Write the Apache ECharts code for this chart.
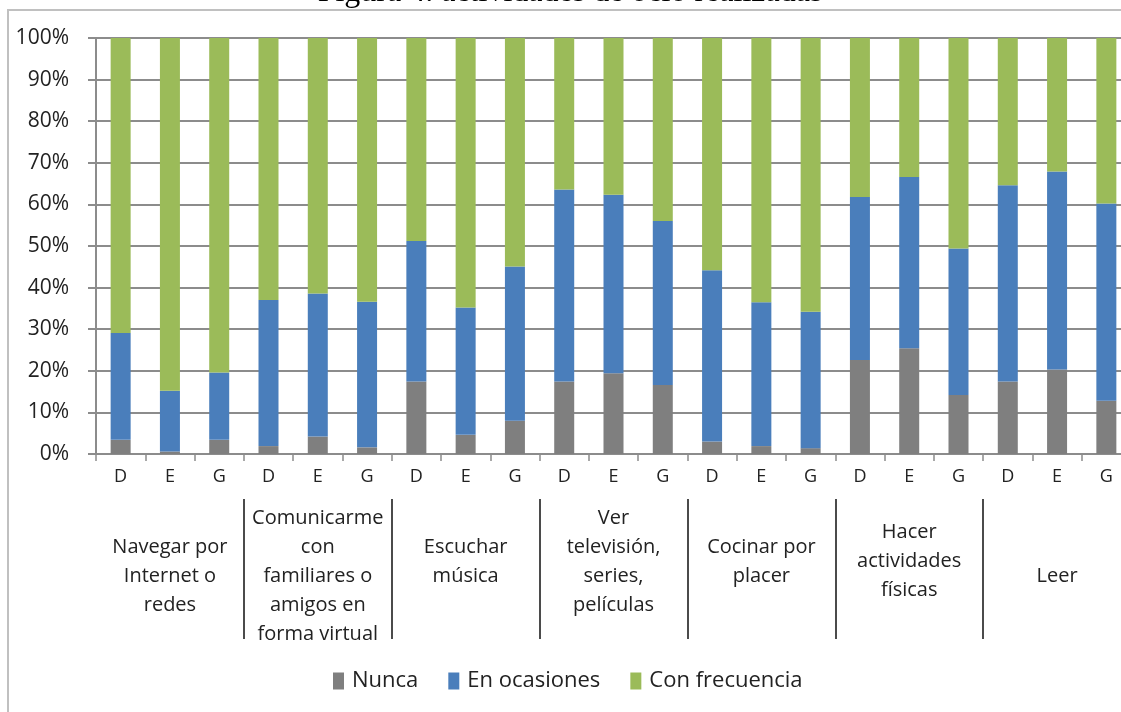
<!DOCTYPE html>
<html>
<head>
<meta charset="utf-8">
<script src="https://cdn.jsdelivr.net/npm/echarts@6/dist/echarts.min.js"></script>
<style>
html,body{margin:0;padding:0;background:#fff;}
#chart{width:1121px;height:712px;}
</style>
</head>
<body>
<div id="chart"></div>
<script>
// ---- data ----
const categories = ['D','E','G','D','E','G','D','E','G','D','E','G','D','E','G','D','E','G','D','E','G'];
const groups = [
  'Navegar por\nInternet o\nredes',
  'Comunicarme\ncon\nfamiliares o\namigos en\nforma virtual',
  'Escuchar\nmúsica',
  'Ver\ntelevisión,\nseries,\npelículas',
  'Cocinar por\nplacer',
  'Hacer\nactividades\nfísicas',
  'Leer'
];
const seriesNames = ['Nunca','En ocasiones','Con frecuencia'];
const nunca = [3.4,0.6,3.4, 1.9,4.2,1.6, 17.4,4.6,8.0, 17.4,19.4,16.6, 3.0,1.9,1.4, 22.6,25.4,14.2, 17.4,20.3,12.8];
const enOcasiones = [25.7,14.6,16.2, 35.1,34.4,35.0, 33.8,30.6,37.1, 46.2,42.9,39.4, 41.2,34.6,32.8, 39.2,41.2,35.2, 47.2,47.6,47.4];
const conFrecuencia = [70.9,84.8,80.4, 63.0,61.4,63.4, 48.8,64.8,54.9, 36.4,37.7,44.0, 55.8,63.5,65.8, 38.2,33.4,50.6, 35.4,32.1,39.8];
const title = 'Figura 4. actividades de ocio realizadas';

// ---- layout helpers (not data) ----
const groupLabelPad = ['', '', '\n', '\n', '\n', '\n', ''];
const colors = ['#7f7f7f', '#4a7ebb', '#9bbb59'];
const FONT = '"Open Sans", sans-serif';

const chart = echarts.init(document.getElementById('chart'), null, {renderer: 'canvas'});
const option = {
  animation: false,
  backgroundColor: '#fff',
  color: colors,
  graphic: [
    {type: 'rect', shape: {x: 8, y: 10, width: 1300, height: 900},
     style: {fill: 'none', stroke: '#c0c0c0', lineWidth: 2}, silent: true, z: -1},
    {type: 'text', x: 570, y: -7,
     style: {text: title, font: '32px "Liberation Serif", "Times New Roman", serif',
             fill: '#000', textAlign: 'center', textVerticalAlign: 'middle'}}
  ],
  grid: {left: 96, top: 38, width: 1035, height: 416, containLabel: false, outerBoundsMode: 'none'},
  legend: {
    bottom: 15, left: 328,
    itemWidth: 11, itemHeight: 17, itemGap: 30,
    icon: 'rect',
    textStyle: {fontFamily: FONT, fontSize: 22, color: '#222', padding: [0, 0, 0, 3]},
    data: seriesNames
  },
  xAxis: [
    {
      type: 'category', data: categories, gridIndex: 0, position: 'bottom',
      axisLine: {show: true, lineStyle: {color: '#8c8c8c', width: 2}},
      axisTick: {show: true, length: 7, lineStyle: {color: '#8c8c8c', width: 1.5}},
      axisLabel: {margin: 14, fontFamily: FONT, fontSize: 18, color: '#222', interval: 0}
    },
    {
      type: 'category', data: groups, gridIndex: 0, position: 'bottom', offset: 45,
      axisLine: {show: false},
      axisTick: {show: true, length: 140, lineStyle: {color: '#111', width: 1.5},
                 interval: function (idx) { return idx !== 0; }},
      axisLabel: {margin: 77, verticalAlign: 'middle', lineHeight: 29,
                  fontFamily: FONT, fontSize: 20, color: '#222', interval: 0,
                  formatter: function (v, i) { return v + groupLabelPad[i]; }}
    }
  ],
  yAxis: {
    type: 'value', min: 0, max: 100, interval: 10,
    axisLine: {show: true, lineStyle: {color: '#8c8c8c', width: 2}},
    axisTick: {show: true, length: 8, lineStyle: {color: '#8c8c8c', width: 2}},
    splitLine: {show: true, lineStyle: {color: '#8c8c8c', width: 2}},
    axisLabel: {margin: 27, fontFamily: FONT, fontSize: 21, color: '#222',
                formatter: '{value}%'}
  },
  series: [
    {name: seriesNames[0], type: 'bar', stack: 'total', data: nunca, barWidth: 20, xAxisIndex: 0},
    {name: seriesNames[1], type: 'bar', stack: 'total', data: enOcasiones, barWidth: 20, xAxisIndex: 0},
    {name: seriesNames[2], type: 'bar', stack: 'total', data: conFrecuencia, barWidth: 20, xAxisIndex: 0}
  ]
};
chart.setOption(option);
</script>
</body>
</html>
